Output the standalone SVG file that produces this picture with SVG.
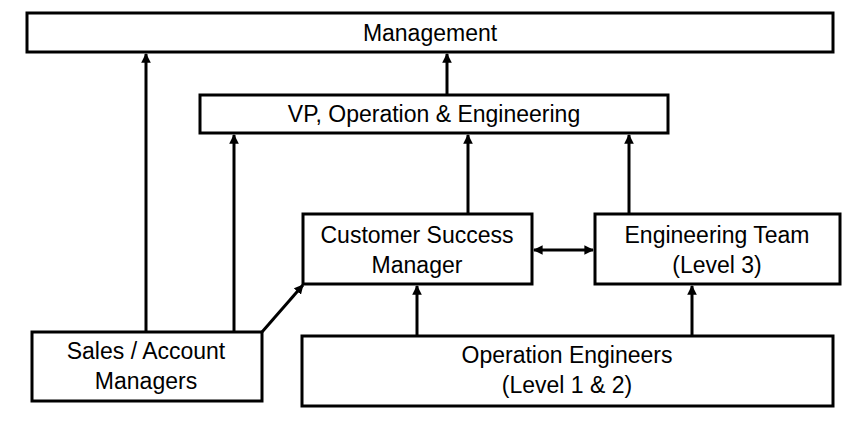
<svg xmlns="http://www.w3.org/2000/svg" width="855" height="423" viewBox="0 0 855 423">
<style>
.box{fill:#fff;stroke:#000;stroke-width:3}
.lbl{font-family:"Liberation Sans",Arial,sans-serif;font-size:23px;fill:#000;text-anchor:middle}
.c{stroke:#000;stroke-width:3;fill:none}
</style>
<defs>
<marker id="ah" viewBox="0 0 10 10" refX="9" refY="5" markerWidth="3.2" markerHeight="3.2" orient="auto-start-reverse" markerUnits="strokeWidth">
<path d="M0,0 L10,5 L0,10 z" fill="#000"/>
</marker>
</defs>
<rect width="855" height="423" fill="#fff"/>
<g id="connectors">
<line class="c" x1="146" y1="332" x2="146" y2="54" marker-end="url(#ah)"/>
<line class="c" x1="234" y1="332" x2="234" y2="135" marker-end="url(#ah)"/>
<line class="c" x1="262" y1="332" x2="303" y2="285" marker-end="url(#ah)"/>
<line class="c" x1="447" y1="95" x2="447" y2="54" marker-end="url(#ah)"/>
<line class="c" x1="468" y1="214" x2="468" y2="135" marker-end="url(#ah)"/>
<line class="c" x1="629" y1="214" x2="629" y2="135" marker-end="url(#ah)"/>
<line class="c" x1="534" y1="250" x2="593" y2="250" marker-start="url(#ah)" marker-end="url(#ah)"/>
<line class="c" x1="417" y1="336" x2="417" y2="286" marker-end="url(#ah)"/>
<line class="c" x1="692" y1="336" x2="692" y2="286" marker-end="url(#ah)"/>
</g>
<g id="management">
<rect class="box" x="27" y="13" width="806" height="39"/>
<text class="lbl" x="430" y="41">Management</text>
</g>
<g id="vp">
<rect class="box" x="200" y="95" width="468" height="38"/>
<text class="lbl" x="434" y="122">VP, Operation &amp; Engineering</text>
</g>
<g id="csm">
<rect class="box" x="303" y="214" width="229" height="70"/>
<text class="lbl" x="417" y="243">Customer Success</text>
<text class="lbl" x="417" y="273">Manager</text>
</g>
<g id="eng">
<rect class="box" x="595" y="214" width="245" height="70"/>
<text class="lbl" x="717" y="243">Engineering Team</text>
<text class="lbl" x="717" y="273">(Level 3)</text>
</g>
<g id="sales">
<rect class="box" x="32" y="332" width="230" height="69"/>
<text class="lbl" x="146" y="359">Sales / Account</text>
<text class="lbl" x="146" y="389">Managers</text>
</g>
<g id="ops">
<rect class="box" x="302" y="336" width="531" height="70"/>
<text class="lbl" x="567" y="363">Operation Engineers</text>
<text class="lbl" x="567" y="393">(Level 1 &amp; 2)</text>
</g>
</svg>
